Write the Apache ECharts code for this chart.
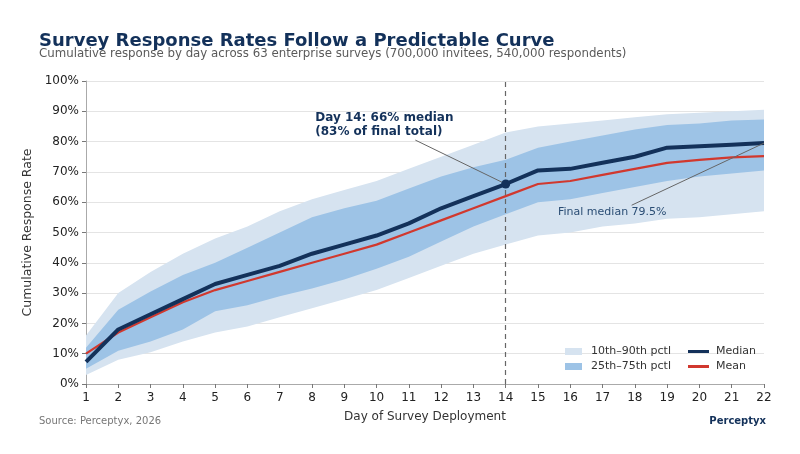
<!DOCTYPE html>
<html>
<head>
<meta charset="utf-8">
<script src="https://cdn.jsdelivr.net/npm/echarts@6/dist/echarts.min.js"></script>
<style>
  html, body { margin: 0; padding: 0; background: #fff; }
  #chart { width: 800px; height: 454px; }
</style>
</head>
<body>
<div id="chart"></div>
<script>
// day of deployment
const days = [1, 2, 3, 4, 5, 6, 7, 8, 9, 10, 11, 12, 13, 14, 15, 16, 17, 18, 19, 20, 21, 22];
// cumulative response rate (%)
const median = [7.3, 18, 23, 28, 33, 36, 39, 43, 46, 49, 53, 58, 62, 66, 70.5, 71, 73, 75, 78, 78.5, 79, 79.5];
const mean = [10, 17, 22, 27, 31, 34, 37, 40, 43, 46, 50, 54, 58, 62, 66, 67, 69, 71, 73, 74, 74.8, 75.2];
const p10 = [3, 8, 10.5, 14, 17, 19, 22, 25, 28, 31, 35, 39, 43, 46, 49, 50, 52, 53, 54.5, 55, 56, 57];
const p25 = [5, 11, 14, 18, 24, 26, 29, 31.5, 34.5, 38, 42, 47, 52, 56, 60, 61, 63, 65, 67, 68.5, 69.5, 70.5];
const p75 = [12, 24.5, 30.5, 36, 40, 45, 50, 55, 58, 60.5, 64.5, 68.5, 71.5, 74, 78, 80, 82, 84, 85.5, 86, 87, 87.3];
const p90 = [16, 30, 37, 43, 48, 52, 57, 61, 64, 67, 71, 75, 79, 83, 85, 86, 87, 88, 89, 89.5, 90, 90.5];
const yTicks = [0, 10, 20, 30, 40, 50, 60, 70, 80, 90, 100];

const FONT = "DejaVu Sans";
const NAVY = "#13315a";
const RED = "#d1382e";
const LIGHT = "#d6e3f0";
const MID = "#9dc3e6";

const pair = (arr) => days.map((d, i) => [d, arr[i]]);

const chart = echarts.init(document.getElementById("chart"));

// band between two percentile lines, drawn as one polygon through the axes
const bandSeries = (name, lo, hi, color, z) => ({
    name: name,
    type: "custom",
    silent: true,
    z: z,
    itemStyle: { color: color },
    data: days.map((d, i) => [d, lo[i], hi[i]]),
    encode: { x: 0, y: [1, 2] },
    renderItem: (params, api) => {
        if (params.dataIndex !== 0) return null;
        const pts = [];
        days.forEach((d, i) => pts.push(api.coord([d, hi[i]])));
        for (let i = days.length - 1; i >= 0; i--) pts.push(api.coord([days[i], lo[i]]));
        return {
            type: "polygon",
            shape: { points: pts },
            style: { fill: color }
        };
    }
});

chart.setOption({
    animation: false,
    textStyle: { fontFamily: FONT },
    title: [
        {
            text: "Survey Response Rates Follow a Predictable Curve",
            left: 34, top: 27,
            textStyle: { fontFamily: FONT, fontSize: 18, fontWeight: "bold", color: NAVY }
        },
        {
            text: "Cumulative response by day across 63 enterprise surveys (700,000 invitees, 540,000 respondents)",
            left: 34, top: 43,
            textStyle: { fontFamily: FONT, fontSize: 11.8, fontWeight: "normal", color: "#5a5a5a" }
        },
        {
            text: "Source: Perceptyx, 2026",
            left: 34, top: 411,
            textStyle: { fontFamily: FONT, fontSize: 10, fontWeight: "normal", color: "#777" }
        },
        {
            text: "Perceptyx",
            right: 29, top: 411,
            textStyle: { fontFamily: FONT, fontSize: 10, fontWeight: "bold", color: NAVY }
        }
    ],
    grid: { left: 86, right: 36, top: 81, bottom: 70 },
    legend: [
        {
            left: 565, top: 346, orient: "vertical", itemGap: 4, padding: 0,
            itemWidth: 17, itemHeight: 7,
            textStyle: { fontFamily: FONT, fontSize: 11, color: "#333", padding: [0, 0, 0, 4] },
            data: [
                { name: "10th–90th pctl", icon: "rect" },
                { name: "25th–75th pctl", icon: "rect" }
            ]
        },
        {
            left: 688, top: 346, orient: "vertical", itemGap: 4, padding: 0,
            itemWidth: 21, itemHeight: 3,
            textStyle: { fontFamily: FONT, fontSize: 11, color: "#333", padding: [0, 0, 0, 2] },
            data: [
                { name: "Median", icon: "rect" },
                { name: "Mean", icon: "rect" }
            ]
        }
    ],
    xAxis: {
        type: "value", min: 1, max: 22, interval: 1,
        name: "Day of Survey Deployment", nameLocation: "middle", nameGap: 27,
        nameTextStyle: { fontFamily: FONT, fontSize: 12, color: "#333" },
        axisLine: { lineStyle: { color: "#aaa" } },
        axisTick: { show: true, length: 4, lineStyle: { color: "#777" } },
        axisLabel: { fontFamily: FONT, fontSize: 12, color: "#222", margin: 8 },
        splitLine: { show: false }
    },
    yAxis: {
        type: "value", min: yTicks[0], max: yTicks[yTicks.length - 1], interval: 10,
        name: "Cumulative Response Rate", nameLocation: "middle", nameGap: 42,
        nameTextStyle: { fontFamily: FONT, fontSize: 12.5, color: "#333" },
        axisLine: { show: true, lineStyle: { color: "#aaa" } },
        axisTick: { show: true, length: 4, lineStyle: { color: "#777" } },
        axisLabel: { fontFamily: FONT, fontSize: 12, color: "#222", margin: 7, formatter: "{value}%" },
        splitLine: { lineStyle: { color: "#e4e4e4" } }
    },
    series: [
        bandSeries("10th–90th pctl", p10, p90, LIGHT, 1),
        bandSeries("25th–75th pctl", p25, p75, MID, 2),
        {
            name: "Mean",
            type: "line",
            data: pair(mean),
            symbol: "none",
            lineStyle: { color: RED, width: 2.2 },
            itemStyle: { color: RED },
            z: 3
        },
        {
            name: "Median",
            type: "line",
            data: pair(median),
            symbol: "none",
            lineStyle: { color: NAVY, width: 4 },
            itemStyle: { color: NAVY },
            z: 4,
            markLine: {
                silent: true,
                symbol: "none",
                label: { show: false },
                data: [
                    [
                        { xAxis: 14, yAxis: 0, lineStyle: { color: "#666", type: [5, 4], width: 1.2 } },
                        { xAxis: 14, yAxis: 100 }
                    ],
                    [
                        { coord: [11.2, 80.5], lineStyle: { color: "#666", type: "solid", width: 1 } },
                        { coord: [14, 66] }
                    ],
                    [
                        { coord: [17.9, 59], lineStyle: { color: "#666", type: "solid", width: 1 } },
                        { coord: [22, 79.5] }
                    ]
                ]
            },
            markPoint: {
                silent: true,
                data: [
                    {
                        coord: [14, 66], symbol: "circle", symbolSize: 9,
                        itemStyle: { color: NAVY }, label: { show: false }
                    },
                    {
                        coord: [8.1, 90.3], symbol: "circle", symbolSize: 0,
                        label: {
                            show: true, position: "inside", align: "left", verticalAlign: "top",
                            formatter: "Day 14: 66% median\n(83% of final total)",
                            fontFamily: FONT, fontSize: 12, fontWeight: "bold", color: NAVY, lineHeight: 14
                        }
                    },
                    {
                        coord: [15.62, 58.6], symbol: "circle", symbolSize: 0,
                        label: {
                            show: true, position: "inside", align: "left", verticalAlign: "top",
                            formatter: "Final median 79.5%",
                            fontFamily: FONT, fontSize: 11, fontWeight: "normal", color: "#2a4d74"
                        }
                    }
                ]
            }
        }
    ]
});
</script>
</body>
</html>
